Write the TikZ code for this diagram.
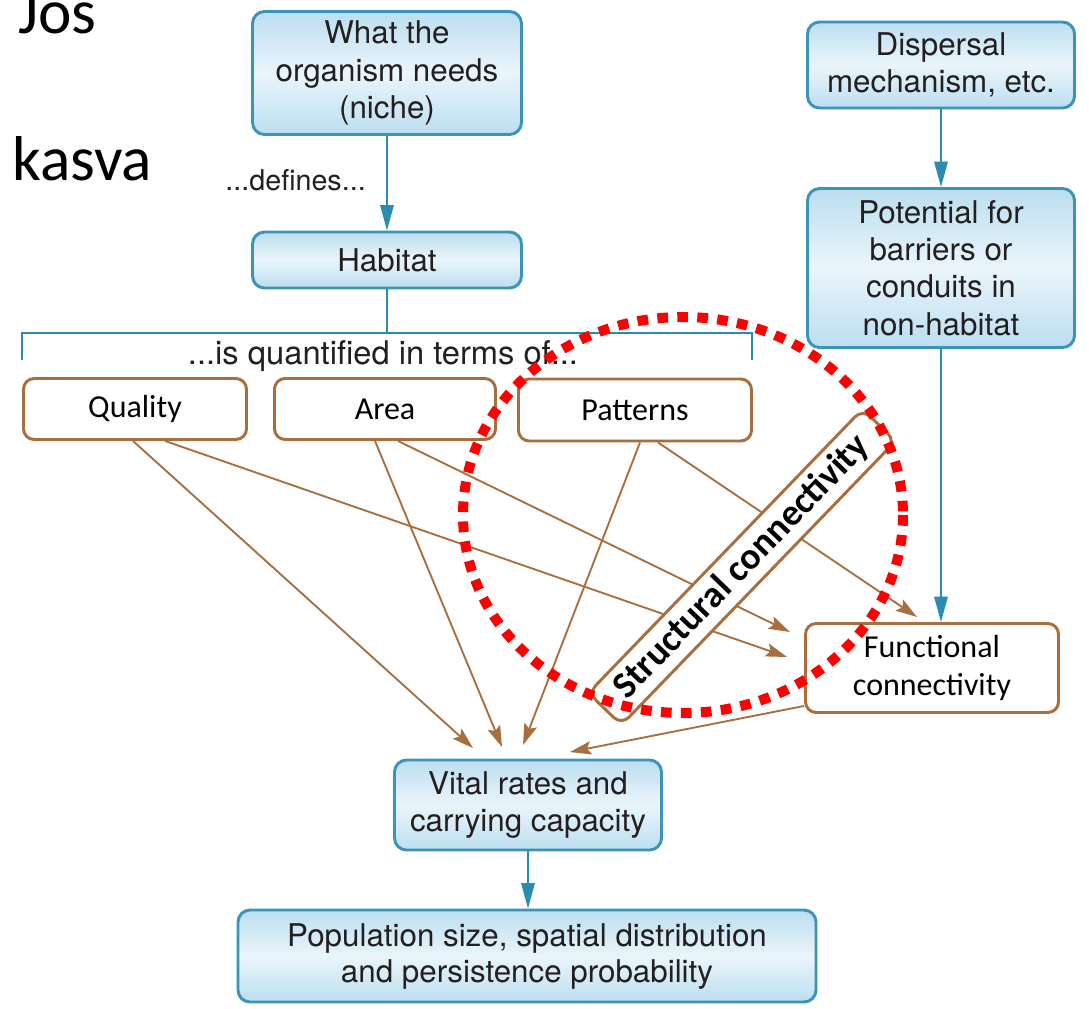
\documentclass[tikz,border=0pt]{standalone}
\usepackage{fontspec}
\setmainfont{TeX Gyre Heros}
\newfontfamily\calfont{Carlito}
\usetikzlibrary{arrows.meta,calc}
\definecolor{arrowblue}{HTML}{2A8CB0}
\definecolor{bbord}{HTML}{3C94B8}
\definecolor{bfill}{HTML}{BCDEF0}
\definecolor{bfilltwo}{HTML}{EAF5FB}
\definecolor{brn}{HTML}{A86E3E}
\definecolor{txt}{HTML}{231F20}
\begin{document}
\begin{tikzpicture}[x=0.75pt,y=-0.75pt,
 bluebox/.style={draw=bbord, line width=2.2pt, rounded corners=9pt, top color=bfill, bottom color=bfill, middle color=bfilltwo, align=center, font=\fontsize{23.5}{28}\selectfont, text=txt, inner sep=0pt},
 brownbox/.style={draw=brn, line width=2.2pt, rounded corners=8pt, fill=white, align=center, font=\calfont\fontsize{24}{28}\selectfont, inner sep=0pt},
 barrow/.style={draw=arrowblue, line width=1.5pt, -{Triangle[length=19pt,width=10pt]}},
 rarrow/.style={draw=brn, line width=1.4pt, -{Stealth[length=16pt,width=10pt,inset=3pt]}},
 lbl/.style={font=\fontsize{21.5}{28}\selectfont, text=txt, inner sep=0pt},
 big/.style={font=\calfont\fontsize{47.5}{50}\selectfont, inner sep=0pt},
]
\useasboundingbox (0,0) rectangle (1089,1008);
% side texts
\node[big, anchor=base west] (jos) at (18,33) {Jos};
\node[big, anchor=base west] (kasva) at (12,180) {kasva};
% blue boxes
\node[bluebox, minimum width=201.75pt, minimum height=92.25pt] (niche) at (387,73) {What the\\organism needs\\(niche)};
\node[bluebox, minimum width=201.75pt, minimum height=42pt] (hab) at (387,260) {Habitat};
\node[bluebox, minimum width=200.25pt, minimum height=64.5pt] (disp) at (941,65) {Dispersal\\mechanism, etc.};
\node[bluebox, minimum width=200.25pt, minimum height=119.25pt] (pot) at (941,268) {Potential for\\barriers or\\conduits in\\non-habitat};
\node[bluebox, minimum width=200.25pt, minimum height=67.5pt] (vital) at (528,805) {Vital rates and\\carrying capacity};
\node[bluebox, minimum width=433.5pt, minimum height=69pt, font=\fontsize{23.5}{27}\selectfont] (pop) at (527,956) {Population size, spatial distribution\\and persistence probability};
% labels
\node[lbl, anchor=east] (defines) at (366,180) {...defines...};
\node[lbl, font=\fontsize{24.5}{28}\selectfont] (quant) at (383,356) {...is quantified in terms of...};
% brown boxes
\node[brownbox, minimum width=167.25pt, minimum height=45.75pt] (q) at (135,409) {Quality};
\node[brownbox, minimum width=165.75pt, minimum height=45.75pt] (a) at (385,409) {Area};
\node[brownbox, minimum width=174.75pt, minimum height=46.5pt] (p) at (635,410) {Patterns};
\node[brownbox, minimum width=189.75pt, minimum height=66.75pt] (f) at (932,668) {Functional\\connectivity};
% blue connectors
\draw[barrow] (niche.south) -- (hab.north);
\draw[barrow] (disp.south) -- (pot.north);
\draw[barrow] (pot.south) -- (pot.south |- f.north);
\draw[barrow] (vital.south) -- (vital.south |- pop.north);
% bracket
\coordinate (bl) at (22,360);
\coordinate (br) at (752,360);
\coordinate (bm) at (387,333);
\draw[draw=arrowblue, line width=1.5pt] (hab.south) -- (bm);
\draw[draw=arrowblue, line width=1.5pt] (bl) -- ++(0,-27) -| (br);
% free ends
\coordinate (vq) at (473,748);
\coordinate (va) at (502,747);
\coordinate (vp) at (523,745);
\coordinate (vf) at (570,752);
\coordinate (fq) at (787,657);
\coordinate (fa) at (790,632);
\coordinate (fp) at (917,617);
% brown connectors
\draw[rarrow] ($(q.south)+(-2,0)$) -- (vq);
\draw[rarrow] ($(q.south)+(30,0)$) -- (fq);
\draw[rarrow] ($(a.south)+(-10,0)$) -- (va);
\draw[rarrow] ($(a.south)+(13,0)$) -- (fa);
\draw[rarrow] ($(p.south)+(5,0)$) -- (vp);
\draw[rarrow] ($(p.south)+(23,0)$) -- (fp);
\draw[rarrow] ($(f.south west)+(0,-8)$) -- (vf);
% structural connectivity
\node[brownbox, rotate=46, minimum width=296pt, minimum height=34.5pt, font=\calfont\bfseries\fontsize{28}{30}\selectfont] (sc) at (742,567) {Structural connectivity};
% red dotted ellipse
\draw[red, line width=7.5pt, dash pattern=on 8pt off 7pt] (683,515) ellipse [x radius=220, y radius=198];
\end{tikzpicture}
\end{document}
